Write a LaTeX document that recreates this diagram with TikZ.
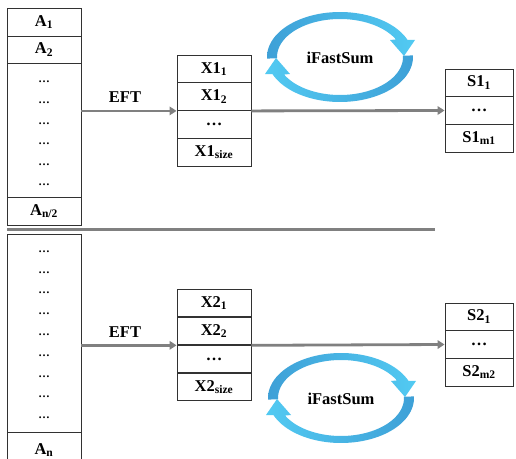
\documentclass[tikz,border=0pt]{standalone}
\usepackage{fontspec}
\setmainfont{Liberation Serif}
\usetikzlibrary{arrows.meta}

\definecolor{boxline}{RGB}{50,50,50}
\definecolor{connector}{RGB}{128,128,128}
\definecolor{ringdark}{RGB}{62,160,215}
\definecolor{ringlight}{RGB}{82,202,242}

% Curved, tapered arrow of the iFastSum cycle; #1 = +1 (upper half) or -1 (lower half)
\newcommand{\ringarrow}[2]{%
  \shade[#2]
    plot[variable=\t, domain=182:22.5, samples=50] ({#1*73*cos(\t)},{#1*45*sin(\t)})
    -- ({#1*75},{#1*17}) -- ({#1*64},{#1*1}) -- ({#1*50},{#1*17})
    -- plot[variable=\t, domain=27.5:182, samples=50] ({#1*63*cos(\t)},{#1*38*sin(\t)})
    -- cycle;}

\tikzset{
  labelfont/.style={font=\fontsize{16.5}{19}\selectfont\bfseries},
  cell/.style={draw=boxline, line width=0.9pt, inner sep=0pt, labelfont},
  colcell/.style={cell, minimum width=74pt},
  xcell/.style={cell, minimum width=74pt, minimum height=27.75pt},
  scell/.style={cell, minimum width=68pt, minimum height=27.67pt},
  dotmark/.style={inner sep=0pt, font=\fontsize{11.5}{13}\selectfont\bfseries},
  conn/.style={draw=connector, line width=2.8pt, -{Triangle[length=7pt,width=8.5pt]}},
  separator/.style={draw=connector, line width=3pt},
  tag/.style={labelfont, inner sep=0pt},
}

\begin{document}
\begin{tikzpicture}[x=1pt, y=1pt]
\useasboundingbox (0,0) rectangle (516,458);

% ---------- upper half: first part of the input ----------
\node[colcell, minimum height=28pt] (a1) at (44,436) {A\textsubscript{1}};
\node[colcell, minimum height=27pt] (a2) at (44,408.5) {A\textsubscript{2}};
\node[colcell, minimum height=134pt] (dotsU) at (44,328) {};
\node[colcell, minimum height=28pt] (ahalf) at (44,247) {A\textsubscript{n/2}};
\foreach \yy [count=\i] in {376,355,334,314,293,273}
  \node[dotmark] (du\i) at (44,\yy) {…};

\node[xcell] (x11) at (214,389.1) {X1\textsubscript{1}};
\node[xcell] (x12) at (214,361.4) {X1\textsubscript{2}};
\node[xcell] (x13) at (214,333.6) {…};
\node[xcell] (x14) at (214,305.9) {X1\textsubscript{size}};

\node[scell] (s11) at (479,375.2) {S1\textsubscript{1}};
\node[scell] (s12) at (479,347.5) {…};
\node[scell] (s13) at (479,319.8) {S1\textsubscript{m1}};

\draw[conn] (dotsU.east |- x12.south) -- (x12.south west);
\node[tag] (eft1) at (125,361) {EFT};
\draw[conn] (x12.south east) -- (s12.west);

\begin{scope}[shift={(340,401)}]
  \ringarrow{1}{left color=ringdark, right color=ringlight}
  \ringarrow{-1}{left color=ringlight, right color=ringdark}
\end{scope}
\node[tag] (sum1) at (340,400) {iFastSum};

% ---------- separator ----------
\coordinate (sepL) at (7,228);
\coordinate (sepR) at (435,228);
\draw[separator] (sepL) -- (sepR);

% ---------- lower half: second part of the input ----------
\node[colcell, minimum height=198pt] (dotsL) at (44,125) {};
\node[colcell, minimum height=36pt] (an) at (44,8) {A\textsubscript{n}};
\foreach \yy [count=\i] in {206,185,165,144,123,102,81,61,40}
  \node[dotmark] (dl\i) at (44,\yy) {…};

\node[xcell] (x21) at (214,155) {X2\textsubscript{1}};
\node[xcell] (x22) at (214,127) {X2\textsubscript{2}};
\node[xcell] (x23) at (214,99) {…};
\node[xcell] (x24) at (214,71) {X2\textsubscript{size}};

\node[scell] (s21) at (479,141.2) {S2\textsubscript{1}};
\node[scell] (s22) at (479,113.5) {…};
\node[scell] (s23) at (479,85.8) {S2\textsubscript{m2}};

\draw[conn] (dotsL.east |- x22.south) -- (x22.south west);
\node[tag] (eft2) at (125,126) {EFT};
\draw[conn] (x22.south east) -- (s22.west);

\begin{scope}[shift={(341,60)}]
  \ringarrow{1}{left color=ringdark, right color=ringlight}
  \ringarrow{-1}{left color=ringlight, right color=ringdark}
\end{scope}
\node[tag] (sum2) at (341,59) {iFastSum};
\end{tikzpicture}
\end{document}
